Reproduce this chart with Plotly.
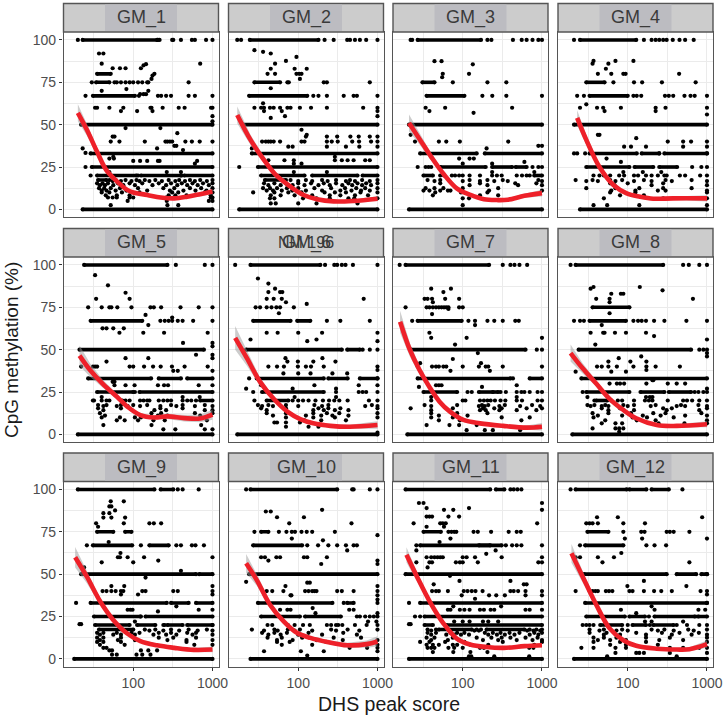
import plotly.graph_objects as go

# ---------- facet labels ----------
PANELS = ["GM_1","GM_2","GM_3","GM_4","GM_5","GM_6","GM_7","GM_8","GM_9","GM_10","GM_11","GM_12"]
Y_TICKS = [0, 25, 50, 75, 100]
Y_MINOR = [12.5, 37.5, 62.5, 87.5]
X_TICKS = [100, 1000]
X_MINOR = [31.62, 316.2]

# ---------- smooth curves: score, methylation, ribbon half-width ----------
GM_1_curve = [[20,26,35,46,66,84,100,150,222,330,480,700,1000],[57,47,34,23,15.5,11.5,10,8.5,7,6.5,7.5,9,10.5],[5,3.5,2.2,1.5,1.1,0.9,0.8,0.7,0.7,0.8,0.9,1.1,1.5]]
GM_2_curve = [[17,25,36,53,80,117,172,280,500,1000],[55.7,41,30,20,13.4,8.5,6,4.7,5,6.3],[5,3,2,1.3,0.9,0.8,0.7,0.7,0.8,1.4]]
GM_3_curve = [[21,29,40,57,84,125,185,270,370,600,1000],[51,41,31,21,12.4,8.5,6,5.5,5.7,8,9.6],[5,3.2,2.2,1.5,1.1,0.9,0.8,0.9,1,1.2,2]]
GM_4_curve = [[23,30,44,66,97,143,210,375,1000],[54,41,25,14.4,9.5,7.5,6.3,6.5,6.5],[4.5,3,1.6,1.1,0.9,0.8,0.8,1,1.8]]
GM_5_curve = [[21,28.5,41,63,88,123,182,270,440,700,1000],[46.5,38,30,22,15.7,11.4,10,10.6,9.6,9.4,11.6],[6,4,2.4,1.5,1.2,1.1,1.2,1.5,2,2.2,3]]
GM_6_curve = [[16,22.5,33,49,73,106,155,255,450,1000],[57,45,31,21,13.4,9,6.5,5,4.5,5.5],[7,4.5,2.4,1.4,1,0.9,0.8,0.9,1.2,2.2]]
GM_7_curve = [[16.2,21.5,28.5,38,51,69,102,165,325,640,1000],[66.5,50,38,28,19.3,13.4,8.5,6.5,5,4,4.5],[6.5,4,2.6,1.8,1.3,1,0.8,0.8,0.9,1.2,2.2]]
GM_8_curve = [[19,27,40,59,88,128,232,415,1000],[48,39,30,21,14.4,9.5,5.5,5,6],[5,3,1.8,1.2,1,0.8,0.8,1,1.8]]
GM_9_curve = [[18.5,26,38.5,56,84,123,200,330,580,1000],[60,48.5,33.7,23,15,10.5,8,6.5,5.3,5.5],[6,3.8,2,1.3,1,0.9,0.9,1,1.2,1.6]]
GM_10_curve = [[22,30,44,66,96,142,232,415,730,1000],[56.4,46.5,32,22,15.4,12.4,10,8,8.7,10.3],[5.5,3.4,1.8,1.3,1.2,1.1,1.2,1.5,2.2,3]]
GM_11_curve = [[19.5,26.5,38.5,57,84,124,200,330,600,1000],[61.4,48.5,33.7,21,12,8.5,7,6.5,7.5,8],[4.5,2.8,1.7,1,0.8,0.7,0.6,0.7,0.9,1.1]]
GM_12_curve = [[19.5,27,40,59,88,128,232,415,600,1000],[62.3,48.5,32,18,11,7.7,6,5.5,5.7,8.7],[5.5,3.4,1.9,1.2,0.9,0.8,0.8,1,1.2,2.2]]

# ---------- runs of overlapping dots along a level: level, first score, last score ----------
GM_1_bands = [[100,23,200],[75,34,50],[80,35,52],[67,31,105],[50,22,1000],[33,29,1000],[25,30,1000],[20,35,110],[20,125,400],[20,440,1000],[17.3,36,46],[0,23,1000]]
GM_2_bands = [[100,24.5,180],[75,28,59],[67,24,130],[50,20,1000],[33,26,1000],[25,31,1000],[20,34,120],[20,150,560],[20,650,1000],[17.3,38,70],[0,18,1000]]
GM_3_bands = [[100,27,170],[75,31,44],[67,35,105],[50,21,1000],[33,29,150],[33,190,1000],[25,52,195],[25,235,420],[25,465,640],[20,32,42],[20,800,1000],[0,21,1000]]
GM_4_bands = [[100,25,128],[75,30,51],[67,33,100],[50,21,1000],[33,33,130],[33,150,250],[33,290,1000],[25,30,105],[25,122,210],[25,250,420],[0,25,1000]]
GM_5_bands = [[100,24,270],[67,29,130],[50,21,780],[33,27,168],[33,210,400],[33,480,1000],[25,35,100],[25,120,1000],[20,700,1000],[0,20,1000]]
GM_6_bands = [[100,25,190],[67,27,80],[67,97,142],[50,22,355],[50,415,600],[33,30,210],[33,240,420],[33,600,1000],[25,35,210],[20,40,75],[0,17,1000]]
GM_7_bands = [[100,19,215],[67,27,97],[50,22,620],[33,27,400],[33,700,1000],[25,32,85],[25,160,280],[0,20,1000]]
GM_8_bands = [[100,22,280],[75,36,105],[67,33,95],[50,24,630],[33,26,1000],[25,30,105],[25,145,290],[25,330,630],[20,40,55],[0,20,1000]]
GM_9_bands = [[100,20,185],[100,222,320],[75,35,56],[75,79,95],[67,31,97],[67,160,280],[50,22,620],[50,680,1000],[33,29,265],[33,300,500],[33,620,1000],[25,32,123],[25,143,1000],[20,33,90],[20,112,190],[20,270,420],[20,480,1000],[17.3,37,100],[0,18,1000]]
GM_10_bands = [[100,25,310],[75,34,42],[67,27,112],[50,24,1000],[33,31,270],[33,415,500],[25,34,105],[25,122,345],[0,25,1000]]
GM_11_bands = [[100,19,222],[100,262,335],[75,32,53],[67,29,222],[67,160,310],[50,19,1000],[33,29,1000],[25,33,1000],[20,33,42],[20,62,1000],[17.3,50,130],[17.3,200,600],[0,21,1000]]
GM_12_bands = [[100,22,97],[100,105,172],[100,200,330],[75,31,57],[67,29,88],[50,28,310],[50,415,730],[50,850,1000],[33,29,1000],[25,30,92],[25,105,165],[25,218,1000],[20,45,85],[20,115,170],[20,210,380],[0,21,1000]]

# ---------- single dots: level -> scores ----------
GM_1_dots = {100:[20,205,215,310,320,400,550,600,830,1000],92:[37,42],86:[40,700],85.7:[145],85:[135],83.3:[55,68,80,125],80:[185],79:[175],77:[170],75:[30,58,62,70,80,90,100,115,130,150,155,500],71:[82],70:[40,155],68:[122,135,145],67:[25,118,205,225,260,300,500,600,1000],60:[33,35,50,75,165,170,235,375,445,960,1000],58:[70,112,175],55:[1000],52:[1000],48:[80,220],45:[360],43:[55,58],40:[52,67,140,255,270,290,310,455,550,690,1000],37.5:[330,350],36:[23,200],35:[425],33.3:[25],31:[56],30:[50,57],28.6:[100,122,150,205,215,640],27:[600],25:[25],22:[50,265,400],20:[29,115,410],17.3:[50,60,80,110,140,190,280,380,520,700,1000],16.7:[55,70,95,120,160,230,340,450,600,850],15.4:[35,41,48,64,90,130,210,300,410,560,760,1000],14.3:[38,44,56,75,105,175,260,360,480,650,900],12.5:[37,43,52,68,115,240,330,520,720,1000],11.1:[40,46,60,82,150,290,430,610,840],10:[40,50,72,120,310,370,800,1000],8.3:[45,62,90,280,340,470,950],7:[48,55,62,90,100,260,950,1000],5:[85,265,900,1000],2.5:[52,270,370]}
GM_2_dots = {100:[17,19,215,280,415,450,520,600,720,1000],94:[28],93:[36],92:[45],90:[95],87.6:[70],86:[51],83:[45,90,128],80:[41,51,95,103,110],77:[105],75:[73,76,210,230,800],71.5:[45],67:[155,180,230,375,500,550,1000],62.6:[36],60:[28,34,37,44,49,59,73,80,105,145,230,660,1000],58:[37,62,1000],55:[68,1000],54:[45],47:[110],44:[128],43:[230,310,455,580,800,1000,125],40:[35,39,42,45,49,59,110,120,230,265,315,480,585,830,1000],37:[75,85,230,400,590,1000],36:[26],31:[290],29:[42,67,88,290,355,420,500,700,800],27:[88,110],25:[18],22:[88,230],17.3:[80,125,200,300,450,640,1000],16.7:[100,150,235,400,520,800],15.4:[37,50,70,100,145,210,300,430,560,720,1000],14.3:[42,60,85,120,180,250,360,480,640,830],12.5:[36,44,54,72,100,160,260,390,540,700,1000],11.1:[40,48,62,84,125,200,340,470,620,800],10:[27,50,75,110,215,290,400,610,1000],8.3:[45,60,90,150,250,340,520,760],6.5:[44,50,115,170,250,430,510,1000],3.5:[45,52,100,170,560]}
GM_3_dots = {100:[22,23,205,230,430,555,640,760,900,1000],87.5:[44,54],85.6:[134],80:[56,120],78:[55],75:[75,205,355],67:[177,236,355,1000],60:[34,60,420],58:[38],57:[137],44:[22],40:[25,50,62,92,375],37.5:[900,1000],36:[200],30:[90,122,138],28:[600],27:[235,100],25:[27,34,37,40,900,1000,760],22:[235,800],20:[52,58,73,80,90,100,122,165,235,270,310,480,560,640,700],17.3:[36,52,122,205,320,900],16.7:[44,100,165,250,370,1000],15.4:[52,165,460,850],14.3:[122,205,500,1000],12.5:[34,44,57,100,280],11.1:[32,38,52,65,70,215,1000],10:[45,95,205],8.3:[42,165,280],6.5:[100,120],2.5:[100]}
GM_4_dots = {100:[21,160,200,225,250,280,310,370,450,530,680],87.6:[37,70,118],86:[36,57],83:[53],80:[42,62,88,94,445],75:[66,120,152,270,720],67:[23,28,118,130,148,295,330,375,520,620,700,1000],62:[30],60:[25,41,49,82,225,300,1000],58:[225,51],56:[1000],44:[44,42],42:[128],40:[320,500,630,1000],37:[90,110,170,500,1000],33:[21,23,29,250,1000],30:[54],28:[82],25:[650,850,1000],22:[88,155,265],20:[37,44,50,60,78,90,120,135,170,200,240,290,310,455,530,820,1000],17.3:[22,36,60,85,160,300,640],16.7:[30,42,70,120,200,360,1000],15.4:[60,100,280],14.3:[68,200,1000],12.5:[30,70,140,280,640],11.1:[62,125,240,300,1000],10:[60,125,1000],8.3:[80,160],6.5:[50,280,1000],2.5:[37,55,140,1000]}
GM_5_dots = {100:[345,800,1000],94:[33],88:[48],83.6:[80],80:[34,90],75:[27,40,50,53,63,95,165,182,225,395,670,1000],70.5:[143],69:[310],67:[220,250,280,310,365,420,570,1000],64.5:[155],62.6:[41,46,56,76],60:[67,134,245,870],54:[425,1000],52:[1000],47:[620,1000],45:[80,155,1000],43:[46],40:[22,31,33,35,90,100,137,178,222,308,445,870],37.5:[320,365,1000],31:[55,58],29:[58,80,104,205,245,275,670,1000],25:[105],22:[40,420,690],20:[31,32,40,46,50,73,80,90,122,135,150,160,210,240,270,300,420,480,540,620],17.3:[36,46,70,100,150,300,420,800],16.7:[42,62,85,122,220,350,600,1000],15.4:[36,70,220,420],14.3:[42,185,260,800,1000],12.5:[38,170,225,600,1000],11.1:[44,205,270,700],10:[40,68,105,125],8.3:[62,78,115,180,250,850],5.5:[42,170,720],3:[240,340,800,1000]}
GM_6_dots = {100:[16,218,285,310,355,395,490,1000],92:[31],89:[42],86:[51],84:[42,59,63],80:[40,49,62,670],78:[70],77:[128],75:[29,33,40,46,53,59,88],71.5:[57],67:[230,340,800],60:[40,55,100,200,1000],56:[25,170],55:[130,1000],50:[1000,800,650],45:[69,202],43:[73,99,155,295],40:[42,54,66,99,125,145,210,1000],38:[1000],36:[65,100,143,270,415],33:[24,1000],29:[34,160,580,1000],27:[22,85,300],25:[27,300,580,650,720,1000],22:[300,90],20:[28,85,100,115,135,165,205,245,285,330,420,780,1000],17.3:[31,42,70,160,240,850],16.7:[35,48,100,200,700,1000],15.4:[34,70,180,240,340,1000],14.3:[40,155,210,290,430],12.5:[40,70,155,230,330,1000],11.1:[48,125,195,270,430],10:[70,155,290,1000],8.3:[120,195,400],7:[50,54,70,105],4.5:[70,135,180],1:[1000]}
GM_7_dots = {100:[16,320,400,450,520,650],86:[40,71],84:[57],80:[33,36,41,60,90],78:[42],75:[19,35,38,42,46,50,54,58,62,66,90,100],74:[66],71:[41],67:[23,118,143,205,250,320,460,510],64.5:[143],60:[38],57:[40,112,1000],53:[80],50:[860,1000,22],48:[155],44.5:[75],42:[170,29],40:[27,41,46,50,57,62,100,160,195,210,320,1000],37.5:[70,220],33:[430],29:[46,50,54,480],28:[175,28],25:[115,130,240,300,350,480,550,600,700,880,1000],22:[480,40],20:[40,100,108,165,185,205,225,255,300,345,480,560,880,1000],17.3:[33,85,175,210,340,750],16.7:[40,160,190,290,530,950],15.4:[22,75,180,250,310,640,1000],14.3:[40,165,195,290,480,850],12.5:[40,85,205],11.1:[50,115],10:[40,75,310,700],8.3:[50,92,550],5.5:[35,68,90,150],2.5:[112,190,240,530]}
GM_8_dots = {100:[19,500,590,800,1000],87:[37,142],86:[34],85:[275],83:[62,82,88],80:[40,59,665],78:[59],71.5:[59],67:[21,25,28,118,135,150,170,215,290,550,1000],64.5:[47],60:[34,49,51,69,95,170],58:[215],56:[1000],53:[39],50:[800,900,1000],48:[1000],46:[148,1000],45:[77],43:[57,108,172],40:[41,47,57,73,118,172,225,455],38:[172],37:[22,62,95],32:[205,210],30:[59,73,80,90,172,320,415,530],25:[27,700,780,900,1000],27:[1000],22:[170,190,205,31],20:[38,62,75,85,120,165,185,205,320,500,560,650,800,1000],17.3:[31,38,52,88,120,225,470,780],16.7:[34,47,57,100,195,415,530,1000],15.4:[47,80,280,360,1000],14.3:[57,120,310,800],12.5:[36,57,110,210,300,850],11.1:[42,85,155,260,530,1000],10:[37,115,175,380],8.3:[52,130,225,1000],6.5:[47,70,85,245,520,1000],3.5:[36,70,78,88],1.5:[78]}
GM_9_dots = {100:[365,420,670],93:[52,76],90:[50,53],87.6:[59],86:[42,50],83.4:[79,42,53],80:[34,76,160,182,225],78:[36],69:[49],67:[26,125,350,400,550,610,780],62.5:[69],60:[64,68,85,137,1000],58:[207],57:[40,100],52:[400],54:[24],48:[143],43:[53,77,1000],40:[41,46,53,60,70,75,130,143,320,365,1000],38:[115,70,1000],33:[19],31:[350],29:[85,92,98,670,1000],28:[205],25:[125],22:[105],20.5:[21,22],20:[240,250,1000],17.3:[140,190,300,500,850],16.7:[160,240,380,650,1000],15.4:[35,42,62,95,120,210,300,480,620],14.3:[38,56,70,105,180,260,350,560,1000],12.5:[35,42,70,210,320,620],11.1:[38,64,105,270,470,1000],10:[35,42,70,470],8.3:[38,78,590,1000],6.5:[42,46],5:[50,54,125,155,200],2.5:[54,62,110,130,165]}
GM_10_dots = {100:[22,480,500,800,1000],87:[39,45],88:[200],83.6:[54,118],80:[77,470],75:[28,57,71,83,91,110,128,150,290],73:[1000],71:[83],70:[205],67:[130,178,240,310,400,500,550],64:[415],60:[34,38,53,59,118,130,230],58:[42,1000],56:[195,1000],45.5:[22],45:[130,140],43:[69,1000],40:[40,47,65,122,135,150,160,170,310,355,500,1000],37.5:[80,82,1000],35:[1000],33:[375,1000],30:[152],29:[59,73,80,440,500],25:[550,600,700,800,900,1000],27:[165,1000],22:[760,970],20:[41,47,74,90,115,140,230,260,300,320,360,520,730,1000],17.3:[26,50,74,105,260,420,1000],16.7:[37,55,90,150,300,590],15.4:[35,50,72,135,370],14.3:[42,60,100,200,550],12.5:[41,62,112,280,620],11.1:[54,85,170,365,1000],10:[54,78,225],8.3:[62,150,1000],6.5:[445,740,1000],4.5:[37,108,210,1000],2:[130]}
GM_11_dots = {100:[400,440,490,550],92:[28,32,1000],89:[35,120],88:[58,76,1000],84:[35,38,41,66,90],80:[24,52,56,61,870],78:[35,58],75:[66,72,78,83,137,155,228,380,480,540],71:[70],69:[51],67:[26,350,420,480,550,1000],64:[260,26],62:[198],60:[35,40,44,48,52,56,100,112,143,310,1000],57:[26,38,41,82,92,100,155,1000,900],54:[36],49:[69],46:[91,400],44:[590,640,43],40:[41,46,50,65,103,115,130,145,178,400,440,500,620,1000],37.5:[97,215,265,340,620,1000],35.5:[143],33:[21],31:[76,305],29:[65,70,92,105,122,165,185,225,250,620,700,1000],25:[25,29],22:[78,100,122,180,210,280],20.5:[21,22],17.3:[36,46,150,170,700,850,1000],16.7:[40,140,160,650,780,950],15.4:[36,46,70,85,105,190,240,300,390,520,800,1000],14.3:[40,62,78,95,120,210,270,340,450,700,900],12.5:[35,44,75,150,230,310,400,620,880],11.1:[40,65,90,180,280,480,760,1000],10:[29,38,60,105,320,1000],8.3:[35,42,50,75,85,125,210,800],6.5:[36,40,44,66,78,100,165,185,690,780],4:[42,76,125,205],1.5:[120,128,250,690]}
GM_12_dots = {100:[19,490],83.6:[41,75,870],80:[30,33,36,42,88,165],75:[88,148,163,310,340,380,600],71:[92,152,1000],67:[25,172,218,305],62.5:[83],60:[22,25,42,67],57:[48,600],50:[1000],46:[160],43:[99,550],40:[22,33,36,39,42,53,58,64,105,115,160,215,265,360,830,1000],38:[1000],33:[1000],31:[200],29:[82,218,780,950],27:[128],25:[185,700,780],22:[165,200,500],20:[27,30,33,37,100,190,415,560,800,1000],17.3:[33,50,85,200,290,580,1000],16.7:[44,72,100,240,380,680],15.4:[33,54,128,270,450,790],14.3:[50,80,170,360,640,1000],12.5:[37,50,72,170,340,1000],11.1:[42,60,95,250,500],10:[37,80,170,1000],8.3:[60,95,240],6.5:[26,37,70,95,340,500,800,1000],3.5:[70,128,140,160,340,1000],1.5:[55,415]}

ALL_BANDS = [GM_1_bands,GM_2_bands,GM_3_bands,GM_4_bands,GM_5_bands,GM_6_bands,GM_7_bands,GM_8_bands,GM_9_bands,GM_10_bands,GM_11_bands,GM_12_bands]
ALL_DOTS = [GM_1_dots,GM_2_dots,GM_3_dots,GM_4_dots,GM_5_dots,GM_6_dots,GM_7_dots,GM_8_dots,GM_9_dots,GM_10_dots,GM_11_dots,GM_12_dots]
ALL_CURVES = [GM_1_curve,GM_2_curve,GM_3_curve,GM_4_curve,GM_5_curve,GM_6_curve,GM_7_curve,GM_8_curve,GM_9_curve,GM_10_curve,GM_11_curve,GM_12_curve]

# ---------- layout in pixels ----------
W, H = 725, 716
COL_L = [63.5, 228.5, 393, 558]
PANEL_W = 155
ROW_T = [32, 257, 481.5]
PANEL_H = 185
STRIP_H = 28.5
FONT = "Liberation Sans, Arial, sans-serif"
BORDER = "#555555"
GRID = "#ebebeb"

fig = go.Figure()
layout = dict(template="none", width=W, height=H, margin=dict(l=0, r=0, t=0, b=0, autoexpand=False),
              paper_bgcolor="white", plot_bgcolor="white", showlegend=False, font=dict(family=FONT))
shapes, annos = [], []
def px(x): return x / W
def py(y): return 1 - y / H

for i, name in enumerate(PANELS):
    r, c = i // 4, i % 4
    L, T = COL_L[c], ROW_T[r]
    ax = "" if i == 0 else str(i + 1)
    xa, ya = "x" + ax, "y" + ax

    bx, by = [], []
    for lvl, lo, hi in ALL_BANDS[i]:
        bx += [lo, hi, None]; by += [lvl, lvl, None]
    fig.add_trace(go.Scatter(x=bx, y=by, mode="lines+markers", xaxis=xa, yaxis=ya, hoverinfo="skip",
                             line=dict(color="black", width=3.6), marker=dict(color="black", size=4.2)))
    dx, dy = [], []
    for lvl, scores in ALL_DOTS[i].items():
        dx += scores; dy += [lvl] * len(scores)
    fig.add_trace(go.Scatter(x=dx, y=dy, mode="markers", xaxis=xa, yaxis=ya,
                             marker=dict(color="black", size=4.2, line=dict(width=0))))

    cx, cy, se = ALL_CURVES[i]
    fig.add_trace(go.Scatter(x=cx + cx[::-1],
                             y=[a + b for a, b in zip(cy, se)] + [a - b for a, b in zip(cy[::-1], se[::-1])],
                             mode="lines", fill="toself", fillcolor="rgba(153,153,153,0.5)", line=dict(width=0),
                             xaxis=xa, yaxis=ya, hoverinfo="skip"))
    fig.add_trace(go.Scatter(x=cx, y=cy, mode="lines", xaxis=xa, yaxis=ya,
                             line=dict(color="#ee2029", width=4.6, shape="spline", smoothing=1)))

    common = dict(automargin=False, showgrid=True, gridcolor=GRID, gridwidth=1.4, zeroline=False, showline=True,
                  linecolor=BORDER, linewidth=1.4, mirror=True, ticklen=3.5, tickwidth=1,
                  tickcolor="#333333", tickfont=dict(size=14, color="#4d4d4d", family=FONT))
    layout["xaxis" + ax] = dict(common, type="log", range=[1.12, 3.076],
                                domain=[px(L), px(L + PANEL_W)], anchor=ya,
                                tickvals=X_TICKS, ticktext=[str(v) for v in X_TICKS] if r == 2 else ["", ""],
                                ticks="outside" if r == 2 else "",
                                minor=dict(tickvals=X_MINOR, showgrid=True, gridcolor=GRID, gridwidth=0.8, ticks=""))
    layout["yaxis" + ax] = dict(common, range=[-4.5, 104.7],
                                domain=[py(T + PANEL_H), py(T)], anchor=xa,
                                tickvals=Y_TICKS, ticktext=[str(v) for v in Y_TICKS] if c == 0 else [""] * 5,
                                ticks="outside" if c == 0 else "",
                                minor=dict(tickvals=Y_MINOR, showgrid=True, gridcolor=GRID, gridwidth=0.8, ticks=""))

    # facet strip
    shapes.append(dict(type="rect", xref="paper", yref="paper", x0=px(L), x1=px(L + PANEL_W),
                       y0=py(T), y1=py(T - STRIP_H), fillcolor="#cccccc", line=dict(color=BORDER, width=1.4)))
    mid = L + PANEL_W / 2
    if name != "GM_6":
        shapes.append(dict(type="rect", xref="paper", yref="paper", x0=px(mid - 36), x1=px(mid + 36),
                           y0=py(T - 1), y1=py(T - STRIP_H + 1), fillcolor="#bcbcc1", line=dict(width=0)))
    annos.append(dict(text=name, x=px(mid), y=py(T - STRIP_H / 2), xref="paper", yref="paper", showarrow=False,
                      xanchor="center", yanchor="middle", font=dict(size=18, color="#3a3a3a", family=FONT)))
    if name == "GM_6":
        annos.append(dict(text="NM 196", x=px(mid), y=py(T - STRIP_H / 2), xref="paper", yref="paper", showarrow=False,
                          xanchor="center", yanchor="middle", font=dict(size=16, color="#3a3a3a", family=FONT)))

annos.append(dict(text="DHS peak score", x=px(389), y=py(703.5), xref="paper", yref="paper", showarrow=False,
                  xanchor="center", yanchor="middle", font=dict(size=19.5, color="#1a1a1a", family=FONT)))
annos.append(dict(text="CpG methylation (%)", x=px(11), y=py(350), xref="paper", yref="paper", showarrow=False,
                  textangle=-90, xanchor="center", yanchor="middle", font=dict(size=19, color="#1a1a1a", family=FONT)))

layout["shapes"] = shapes
layout["annotations"] = annos
fig.update_layout(**layout)
fig.write_html("out.html", config=dict(displayModeBar=False),
               post_script="document.body.style.margin='0';document.body.style.overflow='hidden';")
